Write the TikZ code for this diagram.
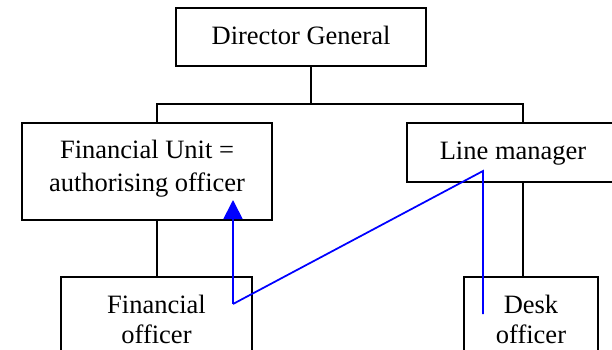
\documentclass[tikz,border=0pt]{standalone}
\usepackage{fontspec}
\setmainfont{Liberation Serif}
\usetikzlibrary{arrows.meta}
\tikzset{
  orgbox/.style={draw, line width=2pt, inner sep=0pt, anchor=north, align=center,
    font=\fontsize{26.5}{31}\selectfont},
  wide/.style={font=\fontsize{26.5}{33}\selectfont},
  tight/.style={font=\fontsize{26.5}{30}\selectfont},
  orgline/.style={line width=2pt},
  flowline/.style={draw=blue, line width=1.75pt},
}
\begin{document}
\begin{tikzpicture}[x=1pt, y=-1pt]
  \useasboundingbox (0,0) rectangle (612,350);
  \clip (0,0) rectangle (612,350);

  % boxes of the chart (a two-line node sits on the baseline of its last line)
  \node[orgbox, minimum width=250pt, text height=37pt, text depth=21pt] (dg) at (301,7) {Director General};
  \node[orgbox, wide, minimum width=250pt, text height=68pt, text depth=29pt] (fu) at (147,122) {Financial Unit =\\authorising officer};
  \node[orgbox, minimum width=212pt, text height=36pt, text depth=23pt] (lm) at (513,122) {Line manager};
  \node[orgbox, tight, minimum width=191pt, text height=66pt, text depth=54pt] (fo) at (156.5,276) {Financial\\officer};
  \node[orgbox, tight, minimum width=134pt, text height=66pt, text depth=54pt] (do) at (531,276) {Desk\\officer};

  % junctions of the hierarchy lines
  \coordinate (jm) at (311,104);
  \coordinate (jl) at (157,104);
  \coordinate (jr) at (523,104);

  \draw[orgline] (jm |- dg.south) -- (jm);
  \draw[orgline] (jl |- fu.north) -- (jl) -- (jr) -- (jr |- lm.north);
  \draw[orgline] (jl |- fu.south) -- (jl |- fo.north);
  \draw[orgline] (jr |- lm.south) -- (jr |- do.north);

  % reporting path
  \coordinate (b0) at (233,200);
  \coordinate (b1) at (233,304);
  \coordinate (b2) at (483,171);
  \coordinate (b3) at (483,314);
  \draw[flowline, -{Triangle[width=19pt, length=19pt]}] (b1) -- (b0);
  \draw[flowline, line join=miter] (b1) -- (b2) -- (b3);
\end{tikzpicture}
\end{document}
